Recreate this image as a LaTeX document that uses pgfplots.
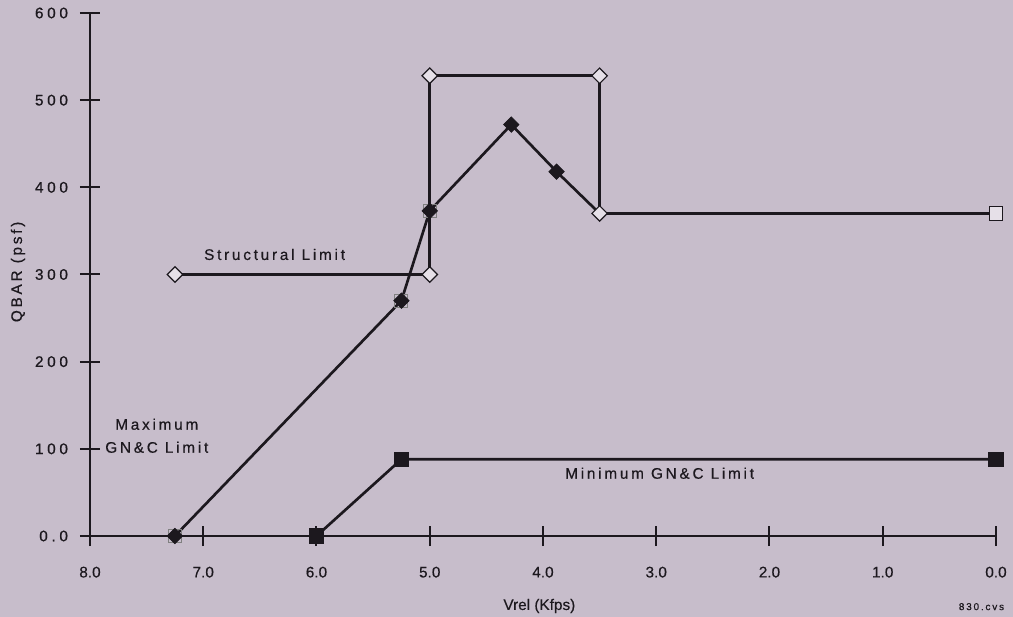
\documentclass[border=0pt]{standalone}
\usepackage{fontspec}
\setmainfont{Liberation Sans}
\newfontfamily\spaced[LetterSpace=18,FakeBold=0.4]{Liberation Sans}
\newfontfamily\yspaced[LetterSpace=24,FakeBold=0.6]{Liberation Sans}
\newfontfamily\xfont[FakeBold=0.3]{Liberation Sans}
\usepackage{pgfplots}
\pgfplotsset{compat=1.18}
\definecolor{bg}{RGB}{199,189,203}
\definecolor{ink}{RGB}{28,24,30}
\definecolor{dfill}{RGB}{230,224,232}
\begin{document}
\begin{tikzpicture}
\path[use as bounding box, fill=bg] (-67.5pt,-60.75pt) rectangle (692.25pt,402pt);
\begin{axis}[
  at={(0,0)}, anchor=south west,
  scale only axis, width=679.5pt, height=392.25pt,
  xmin=0, xmax=8, ymin=0, ymax=600, x dir=reverse,
  axis x line*=bottom, axis y line*=left,
  axis line style={ink, line width=1.8pt, -},
  xtick={0,1,2,3,4,5,6,7,8},
  xticklabels={0.0,1.0,2.0,3.0,4.0,5.0,6.0,7.0,8.0},
  ytick={0,100,200,300,400,500,600},
  yticklabels={0.0,100,200,300,400,500,600},
  tick align=center, major tick length=15pt,
  tick style={ink, line width=1.5pt},
  x tick label style={font=\xfont\fontsize{11.5}{12}\selectfont, text=ink, anchor=north, yshift=-12pt},
  y tick label style={font=\yspaced\fontsize{11.5}{12}\selectfont, text=ink, anchor=east, xshift=-5.5pt},
  xlabel={Vrel (Kfps)}, ylabel={QBAR (psf)},
  every axis x label/.style={at={(axis description cs:0.496,0)}, yshift=-52.5pt, anchor=center, font=\xfont\fontsize{11.5}{12}\selectfont, text=ink},
  every axis y label/.style={at={(axis description cs:0,0.505)}, xshift=-54pt, rotate=90, anchor=center, font=\spaced\fontsize{11.5}{12}\selectfont, text=ink},
  clip=false,
]
% Structural limit line
\addplot[ink, line width=2pt, mark=none] coordinates {(7.25,300) (5.0,300) (5.0,528) (3.5,528) (3.5,370) (0,370)};
% open squares behind max GN&C points
\addplot[only marks, mark=square, mark size=4.9pt, mark options={draw=gray, line width=0.8pt}] coordinates {(7.25,0) (5.25,270) (5.0,373)};
% Maximum GN&C limit
\addplot[ink, line width=2pt, mark=square*, mark indices={1,2,3,4,5}, mark size=4.1pt, mark options={rotate=45, fill=ink, draw=ink, line width=0.5pt}] coordinates {(7.25,0) (5.25,270) (5.0,373) (4.28,472) (3.88,418) (3.5,370)};
% Structural limit diamonds
\addplot[only marks, mark=square*, mark size=4.1pt, mark options={rotate=45, draw=ink, fill=dfill, line width=0.9pt}] coordinates {(7.25,300) (5.0,300) (5.0,528) (3.5,528) (3.5,370)};
\addplot[only marks, mark=square*, mark size=5pt, mark options={draw=ink, fill=dfill, line width=0.9pt}] coordinates {(0,370)};
% Minimum GN&C limit
\addplot[ink, line width=2pt, mark=square*, mark size=4.8pt, mark options={fill=ink, draw=ink}] coordinates {(6.0,0) (5.25,88) (0,88)};
\node[font=\spaced\fontsize{11.5}{12}\selectfont, text=ink] at (axis cs:6.37,323) {Structural Limit};
\node[font=\spaced\fontsize{11.5}{17.25}\selectfont, text=ink, align=center] at (axis cs:7.41,115) {Maximum\\GN\&C Limit};
\node[font=\spaced\fontsize{11.5}{12}\selectfont, text=ink] at (axis cs:2.97,72) {Minimum GN\&C Limit};
\node[font=\spaced\fontsize{7.5}{9}\selectfont, text=ink, yshift=-53pt] at (axis description cs:0.984,0) {830.cvs};
\end{axis}
\end{tikzpicture}
\end{document}
